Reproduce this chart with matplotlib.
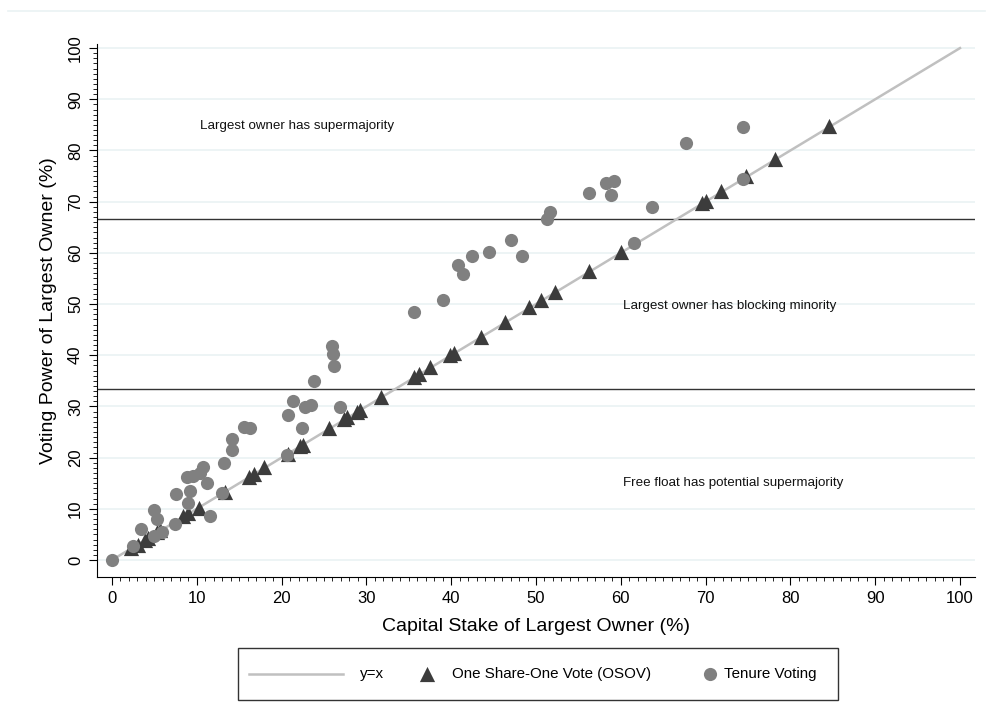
import numpy as np
import matplotlib
matplotlib.use('Agg')
import matplotlib.pyplot as plt
from matplotlib.lines import Line2D
from matplotlib.patches import Rectangle

plt.rcParams['font.family'] = ['Liberation Sans', 'DejaVu Sans']

# one share - one vote firms (lie on y = x)
osov_x = [2.2, 3.1, 3.9, 4.3, 5.3, 5.7, 8.4, 9.0, 10.2, 13.3, 16.2, 16.7, 17.9,
          20.8, 22.2, 22.5, 25.6, 27.3, 27.7, 28.9, 29.3, 31.7, 35.6, 36.2,
          37.5, 39.9, 40.3, 43.5, 46.3, 49.2, 50.6, 52.2, 56.2, 60.0, 69.6,
          70.0, 71.8, 74.8, 78.2, 84.5]
osov_y = [2.3, 3.0, 3.9, 4.3, 5.4, 5.8, 8.5, 9.1, 10.2, 13.3, 16.3, 16.8, 18.1,
          20.8, 22.2, 22.5, 25.7, 27.5, 27.9, 29.0, 29.4, 31.8, 35.8, 36.4,
          37.7, 40.0, 40.4, 43.6, 46.5, 49.4, 50.8, 52.3, 56.4, 60.2, 69.8,
          70.1, 72.1, 75.0, 78.3, 84.7]

# tenure voting firms
tenure_x = [0, 2.5, 3.4, 4.9, 5.9, 5.0, 5.3, 7.4, 7.6, 9.0, 9.2, 8.8, 9.6, 10.4,
            10.7, 11.2, 11.6, 13.0, 13.2, 14.2, 14.1, 15.6, 16.3, 20.6, 20.7,
            21.3, 22.4, 22.8, 23.5, 23.8, 26.9, 25.9, 26.1, 26.2, 35.6, 39.0,
            40.8, 41.4, 42.5, 44.5, 47.0, 48.3, 51.3, 51.6, 56.2, 58.3, 59.2,
            58.8, 61.6, 63.7, 67.7, 74.4, 74.4]
tenure_y = [0, 2.8, 6.1, 4.7, 5.5, 9.7, 8.1, 7.0, 12.9, 11.1, 13.5, 16.2, 16.5,
            17.0, 18.2, 15.0, 8.6, 13.0, 19.0, 21.4, 23.6, 25.9, 25.8, 20.5,
            28.4, 31.1, 25.7, 29.9, 30.2, 35.0, 29.9, 41.8, 40.2, 37.9, 48.4,
            50.8, 57.6, 55.8, 59.4, 60.2, 62.5, 59.4, 66.7, 68.0, 71.6, 73.7,
            74.0, 71.4, 61.9, 69.0, 81.4, 84.6, 74.5]

thresholds = [100 / 3, 200 / 3]
regions = ['Free float has potential supermajority',
           'Largest owner has blocking minority',
           'Largest owner has supermajority']
region_pos = [(60.3, 15.0), (60.3, 49.6), (10.4, 84.8)]

fig = plt.figure(figsize=(9.95, 7.26), dpi=100)
ax = fig.add_axes([97 / 995, 1 - 577 / 726, 878 / 995, 533 / 726])

ax.set_xlim(-1.77, 101.77)
ax.set_ylim(-3.32, 100.8)

for g in range(0, 101, 10):
    ax.axhline(g, color='#eaf2f3', lw=1.2, zorder=0)
for t in thresholds:
    ax.axhline(t, color='#333333', lw=1.0, zorder=1)

diag = np.array([0, 100])
ax.plot(diag, diag, color='#c0c0c0', lw=1.8, zorder=2)
ax.scatter(osov_x, osov_y, marker='^', s=120, color='#3c3c3c', lw=0, zorder=3)
ax.scatter(tenure_x, tenure_y, marker='o', s=90, color='#808080', lw=0, zorder=4)

for txt, (tx, ty) in zip(regions, region_pos):
    ax.text(tx, ty, txt, fontsize=9.6, ha='left', va='center', color='#111111')

ax.set_xticks(np.arange(0, 101, 10))
ax.set_yticks(np.arange(0, 101, 10))
ax.set_xticks(np.arange(0, 101, 1), minor=True)
ax.set_yticks(np.arange(0, 101, 1), minor=True)
ax.tick_params(which='major', length=5.5, width=0.8, labelsize=12, pad=4.5)
ax.tick_params(which='minor', length=3, width=0.6)
for lab in ax.get_yticklabels():
    lab.set_rotation(90)
    lab.set_va('center')
ax.spines['top'].set_visible(False)
ax.spines['right'].set_visible(False)
ax.set_xlabel('Capital Stake of Largest Owner (%)', fontsize=14, labelpad=9)
ax.set_ylabel('Voting Power of Largest Owner (%)', fontsize=14, labelpad=8)

# legend box
lax = fig.add_axes([238 / 995, 1 - 700 / 726, 600 / 995, 52 / 726])
lax.set_xlim(0, 1)
lax.set_ylim(0, 1)
lax.axis('off')
lax.add_patch(Rectangle((0, 0), 1, 1, fill=False, ec='#333333', lw=1.0,
                        transform=lax.transAxes, clip_on=False))
lax.plot([0.018, 0.175], [0.5, 0.5], color='#c0c0c0', lw=1.8)
lax.text(0.203, 0.5, 'y=x', fontsize=10.9, va='center')
lax.scatter([0.315], [0.5], marker='^', s=120, color='#3c3c3c', lw=0)
lax.text(0.357, 0.5, 'One Share-One Vote (OSOV)', fontsize=10.9, va='center')
lax.scatter([0.787], [0.5], marker='o', s=90, color='#808080', lw=0)
lax.text(0.81, 0.5, 'Tenure Voting', fontsize=10.9, va='center')

fig.add_artist(Line2D([8 / 995, 985 / 995], [1 - 11 / 726] * 2,
                      color='#eaf2f3', lw=1.2))

fig.savefig('out.png', dpi=100)
